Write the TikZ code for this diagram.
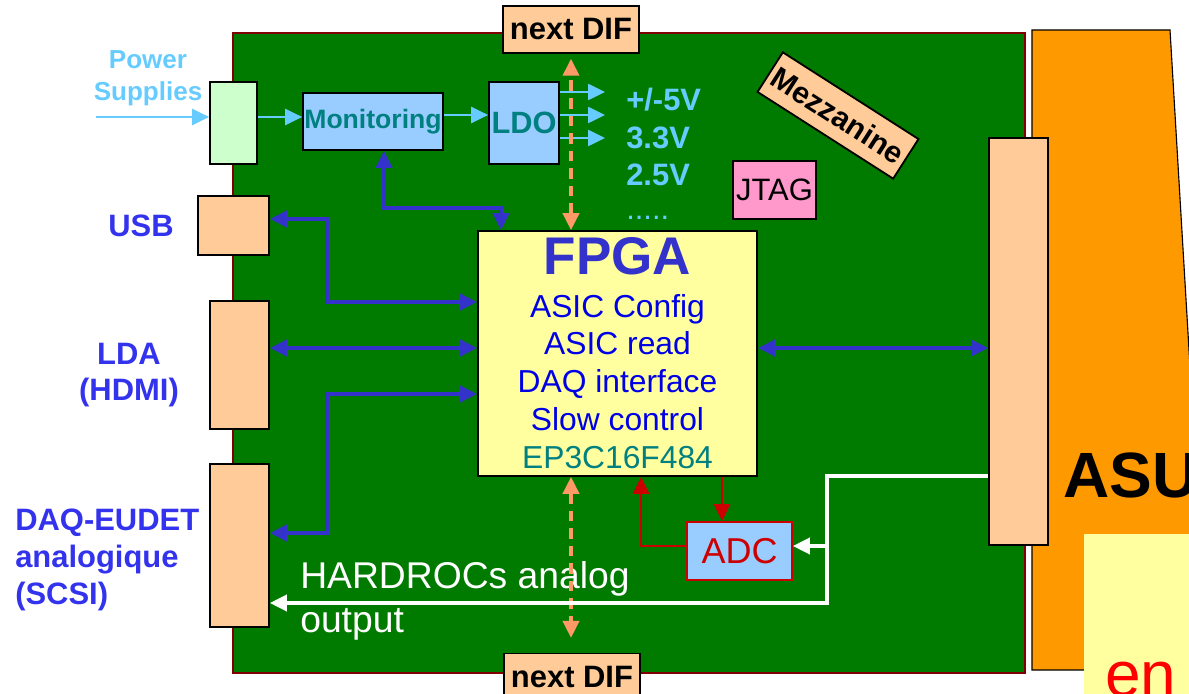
\documentclass[tikz,border=0pt]{standalone}
\usepackage{fontspec}
\setmainfont{Liberation Sans}
\usetikzlibrary{arrows.meta}
\definecolor{boardgreen}{RGB}{0,123,0}
\definecolor{boardedge}{RGB}{128,0,0}
\definecolor{peach}{RGB}{255,204,153}
\definecolor{mint}{RGB}{204,255,204}
\definecolor{skybox}{RGB}{153,204,255}
\definecolor{tealtext}{RGB}{0,128,128}
\definecolor{chipyellow}{RGB}{255,255,160}
\definecolor{busblue}{RGB}{51,51,204}
\definecolor{labelblue}{RGB}{51,51,238}
\definecolor{cfgblue}{RGB}{0,0,230}
\definecolor{powercyan}{RGB}{102,204,255}
\definecolor{difsalmon}{RGB}{255,153,102}
\definecolor{asuorange}{RGB}{255,153,0}
\definecolor{jtagpink}{RGB}{255,153,204}
\definecolor{adcred}{RGB}{204,0,0}
\newcommand{\pxfont}[2]{\fontsize{#1}{#2}\selectfont}

\begin{document}
\begin{tikzpicture}[x=0.025cm, y=-0.025cm,
  every node/.style={inner sep=0pt},
  >={Triangle[length=12pt,width=11.5pt]},
  part/.style 2 args={draw, line width=1.3pt, minimum width=#1*0.025cm, minimum height=#2*0.025cm},
  bus/.style={<->, draw=busblue, line width=2.3pt},
  pwr/.style={->, draw=powercyan, line width=1.1pt},
  dif/.style={<->, draw=difsalmon, line width=2.3pt, dash pattern=on 7.5pt off 5pt},
  adcl/.style={->, draw=adcred, line width=1.6pt},
  ana/.style={->, draw=white, line width=2.2pt}]
  \useasboundingbox (0,0) rectangle (1189,694);
  \clip (0,0) rectangle (1189,694);
  % ASU side
  \draw[fill=asuorange, line width=0.8pt] (1032,30) -- (1170,30) -- (1208,670) -- (1032,670) -- cycle;
  \fill[chipyellow] (1084,534) rectangle (1200,700);
  \node[anchor=base west, font=\pxfont{45.5}{50}\bfseries] (asu) at (1063,497) {ASU};
  \node[anchor=base west, text=red, font=\pxfont{45.5}{50}] (en) at (1105,696) {en};
  % board
  \draw[fill=boardgreen, draw=boardedge, line width=1pt] (233,33) rectangle (1025,673);
  % connectors
  \node[part={47}{82}, fill=mint] (psin) at (233.5,123) {};
  \node[part={71}{59}, fill=peach] (usb) at (233.5,225.5) {};
  \node[part={59}{128}, fill=peach] (lda) at (239.5,365) {};
  \node[part={59}{163}, fill=peach] (daq) at (239.5,545.5) {};
  \node[part={59}{407}, fill=peach] (asucon) at (1018.5,341.5) {};
  \node[part={136}{47}, fill=peach, font=\pxfont{22}{26}\bfseries] (difup) at (571,29.5) {next DIF};
  \node[part={136}{47}, fill=peach, font=\pxfont{22}{26}\bfseries] (difdown) at (572,677) {next DIF};
  % power chain
  \node[part={140}{57}, fill=skybox, text=tealtext, font=\pxfont{18.9}{22}\bfseries] (mon) at (373,121.5) {Monitoring};
  \node[part={70}{82}, fill=skybox, text=tealtext, font=\pxfont{21.9}{26}\bfseries] (ldo) at (524,123) {LDO};
  % FPGA
  \node[part={279}{245}, fill=chipyellow, align=center, text=cfgblue, font=\pxfont{22.6}{27}] (fpga) at (617.5,353.5)
    {{\color{busblue}\pxfont{37.7}{40}\bfseries FPGA}\\[3pt] ASIC Config\\ ASIC read\\ DAQ interface\\ Slow control\\ {\color{tealtext}EP3C16F484}};
  % small parts
  \node[part={83}{58}, fill=jtagpink, font=\pxfont{22}{26}] (jtag) at (774.5,190) {JTAG};
  \node[part={105}{58}, fill=skybox, draw=adcred, text=adcred, font=\pxfont{25.6}{30}] (adc) at (739.5,551) {ADC};
  \node[part={161}{47}, fill=peach, rotate=-32.6, font=\pxfont{21.5}{24}\bfseries] (mezz) at (838,115.5) {Mezzanine};
  % labels
  \node[text=powercyan, align=center, font=\pxfont{18.5}{22.8}\bfseries] (pslabel) at (148,78.5) {Power\\Supplies};
  \node[text=labelblue, anchor=base, font=\pxfont{22}{26}\bfseries] (usblabel) at (141,237) {USB};
  \node[text=labelblue, align=center, font=\pxfont{22}{25.6}\bfseries] (ldalabel) at (129,375) {LDA\\(HDMI)};
  \node[text=labelblue, align=left, anchor=west, font=\pxfont{22}{26.3}\bfseries] (daqlabel) at (15,560) {DAQ-EUDET\\analogique\\(SCSI)};
  \node[text=powercyan, align=left, anchor=north west, font=\pxfont{22}{26.7}\bfseries] (vlabels) at (626,88) {+/-5V\\3.3V\\2.5V\\[-3pt]{\mdseries.....}};
  \node[text=white, align=left, anchor=north west, font=\pxfont{26.5}{31.3}] (hrlabel) at (300,561) {HARDROCs analog\\output};
  % power lines
  \coordinate (psrc) at (96,117);
  \draw[pwr] (psrc) -- (psin.west |- psrc);
  \draw[pwr] (psin.east |- psrc) -- (mon.west |- psrc);
  \draw[pwr] (mon.east |- 0,115) -- (ldo.west |- 0,115);
  \foreach \y/\n in {92/a,115/b,138/c}{
    \coordinate (out\n) at (605,\y);
    \draw[pwr] (ldo.east |- out\n) -- (out\n);
  }
  % buses
  \draw[bus] (mon.south -| 384,0) |- (501,208) -- (fpga.north -| 501,0);
  \draw[bus] (usb.east |- 0,219) -| (327,302) -- (fpga.west |- 0,302);
  \draw[bus] (lda.east |- 0,348) -- (fpga.west |- 0,348);
  \draw[bus] (daq.east |- 0,533) -| (327,394) -- (fpga.west |- 0,394);
  \draw[bus] (fpga.east |- 0,348) -- (asucon.west |- 0,348);
  % next DIF links
  \draw[dif, shorten >=3.5pt] (fpga.north -| 571,0) -- (difup.south -| 571,0);
  \draw[dif, shorten >=10.5pt] (fpga.south -| 571,0) -- (difdown.north -| 571,0);
  % ADC
  \draw[adcl] (fpga.south -| 722,0) -- (adc.north -| 722,0);
  \draw[adcl] (adc.west |- 0,546) -| (fpga.south -| 641,0);
  % analog output
  \draw[ana] (asucon.west |- 0,476) -| (827,603) -- (daq.east |- 0,603);
  \draw[ana] (827,546) -- (adc.east |- 0,546);
\end{tikzpicture}
\end{document}
